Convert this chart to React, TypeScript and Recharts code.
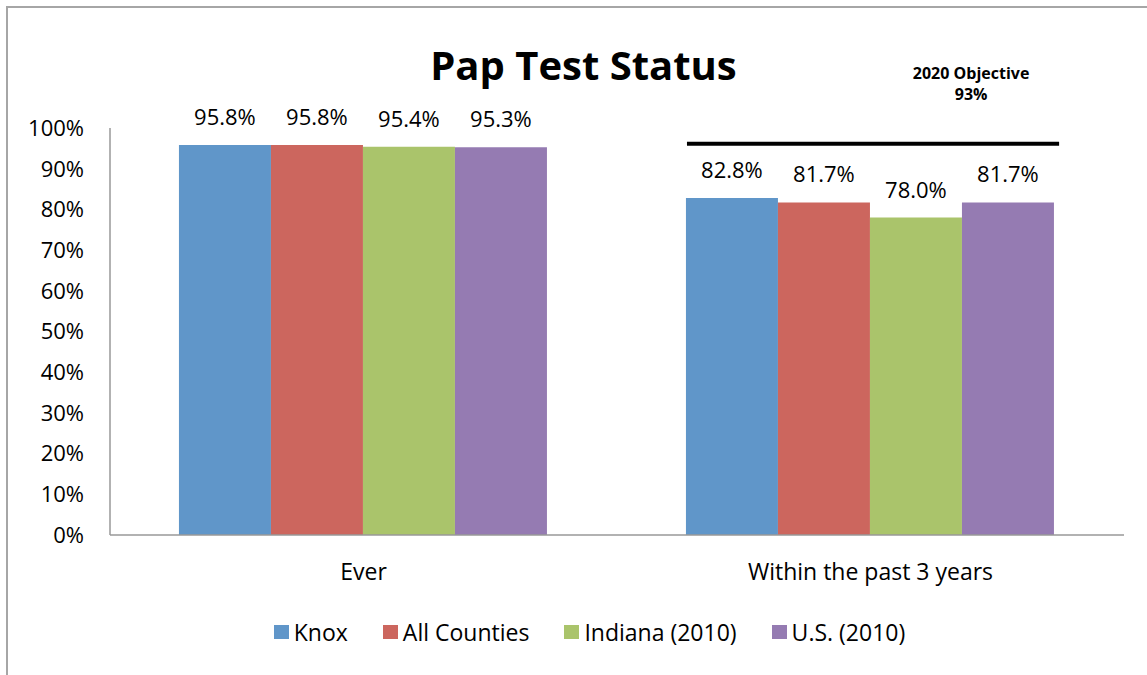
import { BarChart, Bar, XAxis, YAxis, ReferenceLine, Legend, LabelList } from 'recharts';

const categories = ['Ever', 'Within the past 3 years'];
const knox = [95.8, 82.8];
const allCounties = [95.8, 81.7];
const indiana = [95.4, 78.0];
const us = [95.3, 81.7];
const yTicks = [0, 10, 20, 30, 40, 50, 60, 70, 80, 90, 100];

// objective line as drawn in the picture; from/to are in category-band units
const objectiveText = ['2020 Objective', '93%'];
const objectiveLineY = 96.1;
const objectiveFrom = 1.138;
const objectiveTo = 1.872;

const series = [
  { key: 'knox', name: 'Knox', color: '#6096C9' },
  { key: 'allCounties', name: 'All Counties', color: '#CC665E' },
  { key: 'indiana', name: 'Indiana (2010)', color: '#AAC46B' },
  { key: 'us', name: 'U.S. (2010)', color: '#957BB2' },
];

const chartData = categories.map((name, i) => ({
  name,
  knox: knox[i],
  allCounties: allCounties[i],
  indiana: indiana[i],
  us: us[i],
}));

const FONT = '"Open Sans", "Noto Sans", sans-serif';

function LegendContent() {
  return (
    <div style={{ display: 'flex', justifyContent: 'center', paddingLeft: 32, fontFamily: FONT, fontSize: 23, color: '#000', lineHeight: '26px' }}>
      {series.map((s, i) => (
        <div key={s.key} style={{ display: 'flex', alignItems: 'center', marginRight: i < series.length - 1 ? 35 : 0 }}>
          <span style={{ width: 15, height: 14, background: s.color, marginRight: 5, display: 'inline-block' }} />
          <span>{s.name}</span>
        </div>
      ))}
    </div>
  );
}

function ObjectiveShape(props: any) {
  const { x1, x2, y1 } = props;
  const band = (x2 - x1) / categories.length;
  const xa = x1 + band * objectiveFrom;
  const xb = x1 + band * objectiveTo;
  const cx = xb - 88;
  return (
    <g>
      <line x1={xa} x2={xb} y1={y1} y2={y1} stroke="#000" strokeWidth={4} />
      <text x={cx} textAnchor="middle" fontFamily={FONT} fontWeight={700} fontSize={16} fill="#000">
        <tspan x={cx} y={y1 - 65}>{objectiveText[0]}</tspan>
        <tspan x={cx} y={y1 - 44}>{objectiveText[1]}</tspan>
      </text>
    </g>
  );
}

export default function App() {
  return (
    <div style={{ position: 'absolute', left: 0, top: 0, width: 1147, height: 675, background: '#fff', overflow: 'hidden' }}>
      <div style={{ position: 'absolute', left: 6, top: 6, width: 1141, height: 669, borderLeft: '2px solid #a6a6a6', borderTop: '2px solid #a6a6a6' }} />
      <div style={{ position: 'absolute', left: 0, width: 1167, top: 40, textAlign: 'center', fontFamily: FONT, fontWeight: 700, fontSize: 40, lineHeight: '50px', color: '#000' }}>
        Pap Test Status
      </div>
      <div style={{ position: 'absolute', left: 0, top: 0 }}>
        <BarChart
          width={1147}
          height={675}
          data={chartData}
          margin={{ top: 128, right: 23, bottom: 0, left: 0 }}
          barCategoryGap="13.6%"
          barGap={0}
        >
          <XAxis
            dataKey="name"
            height={140}
            axisLine={{ stroke: '#999', strokeWidth: 1.5 }}
            tickLine={false}
            tickMargin={23}
            tick={{ fill: '#000', fontSize: 23, fontFamily: FONT }}
          />
          <YAxis
            width={110}
            domain={[0, 100]}
            ticks={yTicks}
            interval={0}
            tickFormatter={(v: number) => `${v}%`}
            axisLine={{ stroke: '#999', strokeWidth: 1.5 }}
            tickLine={false}
            tickMargin={20}
            tick={{ fill: '#000', fontSize: 22, fontFamily: FONT }}
          />
          {series.map(s => (
            <Bar key={s.key} dataKey={s.key} name={s.name} fill={s.color} isAnimationActive={false}>
              <LabelList
                dataKey={s.key}
                position="top"
                offset={20}
                formatter={(v: number) => `${v.toFixed(1)}%`}
                style={{ fill: '#000', fontSize: 22, fontFamily: FONT }}
              />
            </Bar>
          ))}
          <ReferenceLine y={objectiveLineY} shape={<ObjectiveShape />} ifOverflow="visible" />
          <Legend
            verticalAlign="middle"
            align="center"
            layout="horizontal"
            wrapperStyle={{ top: 619, left: 0, width: 1147 }}
            content={<LegendContent />}
          />
        </BarChart>
      </div>
    </div>
  );
}
